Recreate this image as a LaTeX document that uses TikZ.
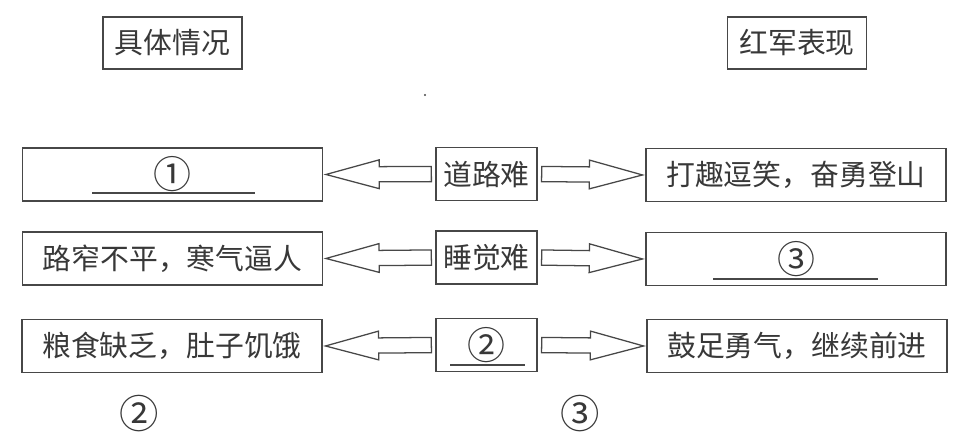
\documentclass[tikz,border=0pt]{standalone}
\usepackage{fontspec}
\setmainfont{Noto Sans CJK SC}
\usetikzlibrary{calc}
\definecolor{ink}{gray}{0.22}
\definecolor{edge}{gray}{0.28}
% arrow sizes
\newcommand{\sw}{0.19cm}
\newcommand{\hw}{0.36cm}
\newcommand{\hl}{1.33cm}
% hollow block arrow from node anchor #1 to node anchor #2
\newcommand{\fatarrow}[2]{
\coordinate (tl) at ($(#1)!0.1cm!(#2)$);
\coordinate (tp) at ($(#2)!0.07cm!(#1)$);
\coordinate (hb) at ($(tp)!\hl!(tl)$);
\draw[hollow] ($(tl)!\sw!90:(tp)$) -- ($(hb)!\sw!90:(tp)$) --
              ($(hb)!\hw!90:(tp)$) -- (tp) --
              ($(hb)!\hw!-90:(tp)$) -- ($(hb)!\sw!-90:(tp)$) --
              ($(tl)!\sw!-90:(tp)$) -- cycle;
}
% answer line under a blank: node, left, right, drop
\newcommand{\blank}[4]{
\draw[edge,line width=0.8pt] ($(#1.center)+(#2,#4)$) -- ($(#1.center)+(#3,#4)$);
}
% circled number in a box
\newcommand{\num}[1]{{\fontsize{27}{28}\selectfont #1}}
\tikzset{
  x=0.025cm, y=-0.025cm,
  txt/.style={text=ink, font=\fontsize{20.5}{24}\selectfont, inner sep=0pt},
  box/.style={txt, draw=edge, line width=0.9pt},
  head/.style={box, minimum width=3.475cm, minimum height=1.3cm},
  side/.style={box, minimum width=7.5cm, minimum height=1.325cm},
  mid/.style={box, minimum width=2.525cm, minimum height=1.33cm},
  hollow/.style={draw=edge, line width=0.9pt, line join=miter, fill=white},
  big/.style={txt, font=\fontsize{28}{30}\selectfont}
}
\begin{document}
\begin{tikzpicture}
\useasboundingbox (0,0) rectangle (969,435);

% column heads
\node[head] (hl) at (172.5,43) {具体情况};
\node[head] (hr) at (797,43) {红军表现};
\fill[edge] (425,95) circle[radius=1.1];

% row 1
\node[side] (l1) at (172.5,174.5) {\num{①}};
\node[mid]  (m1) at (486.5,174) {道路难};
\node[side] (r1) at (796,175) {打趣逗笑，奋勇登山};
\blank{l1}{-80.5}{82.5}{18.5}

% row 2
\node[side] (l2) at (172.5,258.5) {路窄不平，寒气逼人};
\node[mid]  (m2) at (486.5,257.5) {睡觉难};
\node[side] (r2) at (796,259) {\num{③}};
\blank{r2}{-83}{82}{20}

% row 3
\node[side] (l3) at (172,346) {粮食缺乏，肚子饥饿};
\node[mid]  (m3) at (486.5,345) {\num{②}};
\node[side] (r3) at (797,346) {鼓足勇气，继续前进};
\blank{m3}{-36.5}{38.5}{20}

% arrows
\fatarrow{m1.west}{l1.east}
\fatarrow{m1.east}{r1.west}
\fatarrow{m2.west}{l2.east}
\fatarrow{m2.east}{r2.west}
\fatarrow{m3.west}{l3.east}
\fatarrow{m3.east}{r3.west}

% marks below
\node[big] (n2) at (139,414) {②};
\node[big] (n3) at (580,414) {③};
\end{tikzpicture}
\end{document}
